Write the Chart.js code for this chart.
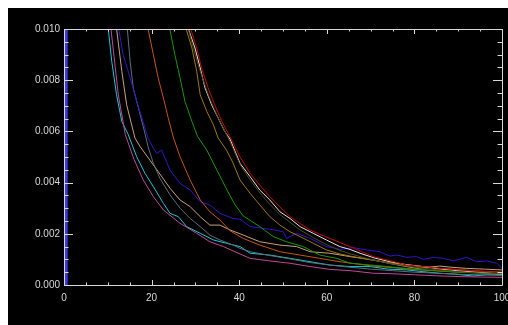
<!DOCTYPE html>
<html>
<head>
<meta charset="utf-8">
<script src="https://cdn.jsdelivr.net/npm/chart.js@4/dist/chart.umd.min.js"></script>
<style>
  html, body { margin:0; padding:0; background:#fff; overflow:hidden; }
  #wrap { position:absolute; left:8px; top:8px; width:520px; height:317px; background:#000; }
</style>
</head>
<body>
<div id="wrap"><canvas id="chart" width="520" height="317"></canvas></div>
<script>
// Valores (x = eixo horizontal, y = valor)
const cyanX = [9.8,10.9,12.0,13.2,14.6,16.6,18.5,20.4,22.7,24.2,26.1,28.0,31.1,34.1,37.1,40.2,42.5,47.0,51.6,56.2,60.7,65.3,69.9,74.0,78.2,82.0,85.8,89.5,93.4,96.5,100];
const cyanY = [0.0105,0.00874,0.00743,0.00639,0.0059,0.00501,0.00436,0.00384,0.00319,0.0028,0.00267,0.00228,0.00202,0.00176,0.00163,0.0015,0.00124,0.00117,0.00104,0.00091,0.00078,0.00072,0.00072,0.00062,0.00059,0.00052,0.00046,0.00042,0.00035,0.0004,0.00039];

const magentaX = [10.4,12.4,14.0,16.0,18.1,20.4,22.7,26.5,30.3,33.3,36.4,40.2,42.5,47.0,51.6,56.2,60.7,65.3,70.6,75,80,85,90,95,100];
const magentaY = [0.0105,0.00743,0.00587,0.0049,0.0041,0.00345,0.00293,0.00241,0.00202,0.00169,0.0015,0.00121,0.00104,0.00094,0.00085,0.00072,0.00061,0.00056,0.00046,0.00044,0.0004,0.00036,0.00033,0.00031,0.0003];

const tanX = [11.65,13.2,14.3,16.2,17.4,19.6,21.5,24.2,26.5,28.8,31.1,33.3,35.6,37.9,40.2,44.7,49.3,53.1,56.2,60.7,65.3,70.6,75,80.5,85.8,88,91.9,96,100];
const tanY = [0.0105,0.00835,0.00704,0.00574,0.0054,0.00488,0.00443,0.00378,0.00332,0.00306,0.00267,0.00234,0.00234,0.00215,0.002,0.00169,0.00156,0.0015,0.0013,0.00124,0.00111,0.00098,0.00082,0.00065,0.00074,0.0007,0.00065,0.00062,0.00059];

const blueX = [12.0,13.5,15.1,16.6,19.2,20.4,21.2,22.3,24.2,26.5,28.8,31.1,33.3,35.6,38.6,40.2,42.5,47.0,50.1,50.8,53.1,56.2,59.9,62.3,63.0,66.1,69.1,72.1,74.4,76.0,78.2,80.5,82.0,84.4,86.6,88.9,91.9,94.2,96.5,98.8,100];
const blueY = [0.0105,0.009,0.00809,0.00718,0.00574,0.00534,0.00514,0.00527,0.00449,0.00397,0.00371,0.00325,0.00313,0.0028,0.0026,0.00257,0.00228,0.00218,0.00208,0.00182,0.00202,0.00182,0.0015,0.00143,0.00139,0.00146,0.00137,0.0013,0.00113,0.00117,0.00108,0.00111,0.001,0.00108,0.00104,0.00094,0.00108,0.00091,0.00094,0.00085,0.00065];

const grayX = [14.2,15.1,15.8,17.0,18.3,19.2,20.4,21.9,24.2,26.5,28.8,31.1,33.3,35.6,38.6,40.2,42.5,47,51.6,56,60.7,65,70,75,80,85,90,95,100];
const grayY = [0.0105,0.00874,0.0077,0.00691,0.00605,0.0054,0.00475,0.00417,0.00352,0.003,0.0026,0.00228,0.00195,0.00176,0.00156,0.00143,0.0013,0.00115,0.00102,0.00088,0.00078,0.0007,0.00062,0.00056,0.0005,0.00046,0.00042,0.0004,0.00038];

const orangeX = [18.6,20.4,21.5,22.7,23.8,25.0,26.5,28.8,31.1,33.3,35.6,37.9,40.9,44.7,49.3,53.9,58.4,63,67,70,75,80,85,90,95,100];
const orangeY = [0.0105,0.009,0.00809,0.0073,0.00652,0.00574,0.00501,0.0041,0.00332,0.00286,0.00254,0.00212,0.00182,0.00156,0.0013,0.00117,0.00104,0.00091,0.00082,0.00075,0.00068,0.0006,0.00055,0.0005,0.00047,0.00045];

const greenX = [23.6,25.3,26.5,27.6,29.2,30.5,32.6,34.9,37.1,39.0,40.9,44.7,47.8,50.8,54.6,58.4,62.3,65.3,70,75,80,85,90,95,100];
const greenY = [0.0105,0.009,0.00809,0.00718,0.00639,0.0058,0.00527,0.00449,0.00375,0.00315,0.0027,0.00228,0.00189,0.00169,0.0015,0.00117,0.00104,0.00085,0.00078,0.0007,0.00062,0.00056,0.0005,0.00047,0.00045];

const goldX = [27.0,29.2,30.3,31.1,32.6,34.1,35.2,37.1,38.5,40.2,42.5,44.7,47,49.3,51.6,53.9,56.9,59.9,63,65.3,70,75,80,85,90,95,100];
const goldY = [0.0105,0.00926,0.00835,0.00743,0.00678,0.00626,0.00574,0.00527,0.0048,0.0041,0.00358,0.00313,0.00267,0.00234,0.00208,0.00189,0.00163,0.00137,0.00121,0.00113,0.00098,0.00085,0.00075,0.00066,0.0006,0.00054,0.0005];

const oliveX = [27.6,29.6,31,33,35,37.9,40.2,42.5,44.7,47,49.3,51.6,53.9,56.9,59.9,63,65.3,70,75,80,85,90,95,100];
const oliveY = [0.0105,0.0092,0.0084,0.0074,0.0066,0.0056,0.0047,0.0041,0.0036,0.00315,0.00275,0.00245,0.00215,0.00185,0.00158,0.00135,0.00122,0.001,0.00082,0.0007,0.0006,0.00052,0.00047,0.00044];

const whiteX = [27.4,29.9,31.1,32.2,33.7,35.2,36.7,37.9,40.2,42.5,44.7,47,49.3,51.6,53.9,56.9,59.9,63,65.3,67.6,71,74.4,78,82,86,89.7,94,99.5,100];
const whiteY = [0.0105,0.00926,0.00848,0.0077,0.00704,0.00652,0.006,0.0057,0.00475,0.00423,0.00371,0.00332,0.00286,0.0026,0.00228,0.00202,0.00176,0.0015,0.00139,0.00124,0.00105,0.00091,0.0008,0.00072,0.00062,0.00056,0.0005,0.00043,0.00043];

const redX = [28.0,30.3,31.4,32.9,34.5,36,37.9,40.2,42.5,44.7,47,49.3,51.6,53.9,56.2,58.4,60.7,63,65.3,68,70.6,74.4,78.2,82,85.8,89.5,93.4,97,100];
const redY = [0.0105,0.00926,0.00848,0.0077,0.007,0.0064,0.00579,0.005,0.00436,0.0039,0.00345,0.00305,0.00267,0.0024,0.00215,0.00198,0.00182,0.00166,0.0015,0.0013,0.00111,0.00095,0.00078,0.00072,0.00065,0.0006,0.00056,0.00052,0.0005];

// barra vertical perto de x = 0
const spikeX = [0.5,0.5];
const spikeY = [0,0.0105];

// marcas dos eixos
const xMajor = [0,20,40,60,80,100];
const xMinor = [5,10,15,25,30,35,45,50,55,65,70,75,85,90,95];
const yMajor = [0,0.002,0.004,0.006,0.008,0.010];
const yMinor = [0.0005,0.001,0.0015,0.0025,0.003,0.0035,0.0045,0.005,0.0055,0.0065,0.007,0.0075,0.0085,0.009,0.0095];

const pts = (xs, ys) => xs.map((x, i) => ({x:x, y:ys[i]}));
const line = (xs, ys, color, w) => ({data:pts(xs, ys), borderColor:color, borderWidth:w || 1, showLine:true, pointRadius:0, fill:false});

// moldura estilo IDL, com marcas para dentro
const frame = {
  id:'frame',
  afterDatasetsDraw(chart) {
    const {ctx, chartArea:a, scales:{x, y}} = chart;
    ctx.save();
    ctx.strokeStyle = '#d8d8d8';
    ctx.lineWidth = 1;
    ctx.beginPath();
    ctx.rect(Math.round(a.left)+0.5, Math.round(a.top)+0.5, Math.round(a.right-a.left), Math.round(a.bottom-a.top));
    const xt = (v, len) => {
      const px = Math.round(x.getPixelForValue(v)) + 0.5;
      ctx.moveTo(px, a.bottom); ctx.lineTo(px, a.bottom - len);
      ctx.moveTo(px, a.top); ctx.lineTo(px, a.top + len);
    };
    const yt = (v, len) => {
      const py = Math.round(y.getPixelForValue(v)) + 0.5;
      ctx.moveTo(a.left, py); ctx.lineTo(a.left + len, py);
      ctx.moveTo(a.right, py); ctx.lineTo(a.right - len, py);
    };
    xMajor.forEach(v => xt(v, 5));
    xMinor.forEach(v => xt(v, 2.5));
    yMajor.forEach(v => yt(v, 9));
    yMinor.forEach(v => yt(v, 4.5));
    ctx.stroke();
    ctx.restore();
  }
};

new Chart(document.getElementById('chart'), {
  type:'scatter',
  data:{datasets:[
    line(spikeX, spikeY, '#3a3ae8', 3),
    line(spikeX, spikeY, '#b040c0', 1),
    line(redX, redY, '#c80000'),
    line(oliveX, oliveY, '#4a4a18'),
    line(whiteX, whiteY, '#e4e4e4'),
    line(goldX, goldY, '#a07800'),
    line(greenX, greenY, '#129a00'),
    line(orangeX, orangeY, '#c85410'),
    line(blueX, blueY, '#3412c8'),
    line(grayX, grayY, '#5a7078'),
    line(tanX, tanY, '#c8a078'),
    line(magentaX, magentaY, '#c04898'),
    line(cyanX, cyanY, '#14c8d8')
  ]},
  options:{
    responsive:false,
    animation:false,
    layout:{padding:{top:21, right:26, left:0, bottom:0}},
    plugins:{legend:{display:false}, tooltip:{enabled:false}},
    scales:{
      x:{type:'linear', min:0, max:100,
        ticks:{stepSize:20, color:'#d8d8d8', font:{family:'Liberation Sans', size:10}, padding:7, maxRotation:0, autoSkip:false},
        grid:{display:false, drawTicks:false}, border:{display:false},
        afterFit(s){ s.height = 40; }},
      y:{min:0, max:0.010,
        ticks:{stepSize:0.002, color:'#d8d8d8', font:{family:'Liberation Sans', size:10}, padding:4,
          callback:v => v.toFixed(3)},
        grid:{display:false, drawTicks:false}, border:{display:false},
        afterFit(s){ s.width = 56; }}
    }
  },
  plugins:[frame]
});
</script>
</body>
</html>
